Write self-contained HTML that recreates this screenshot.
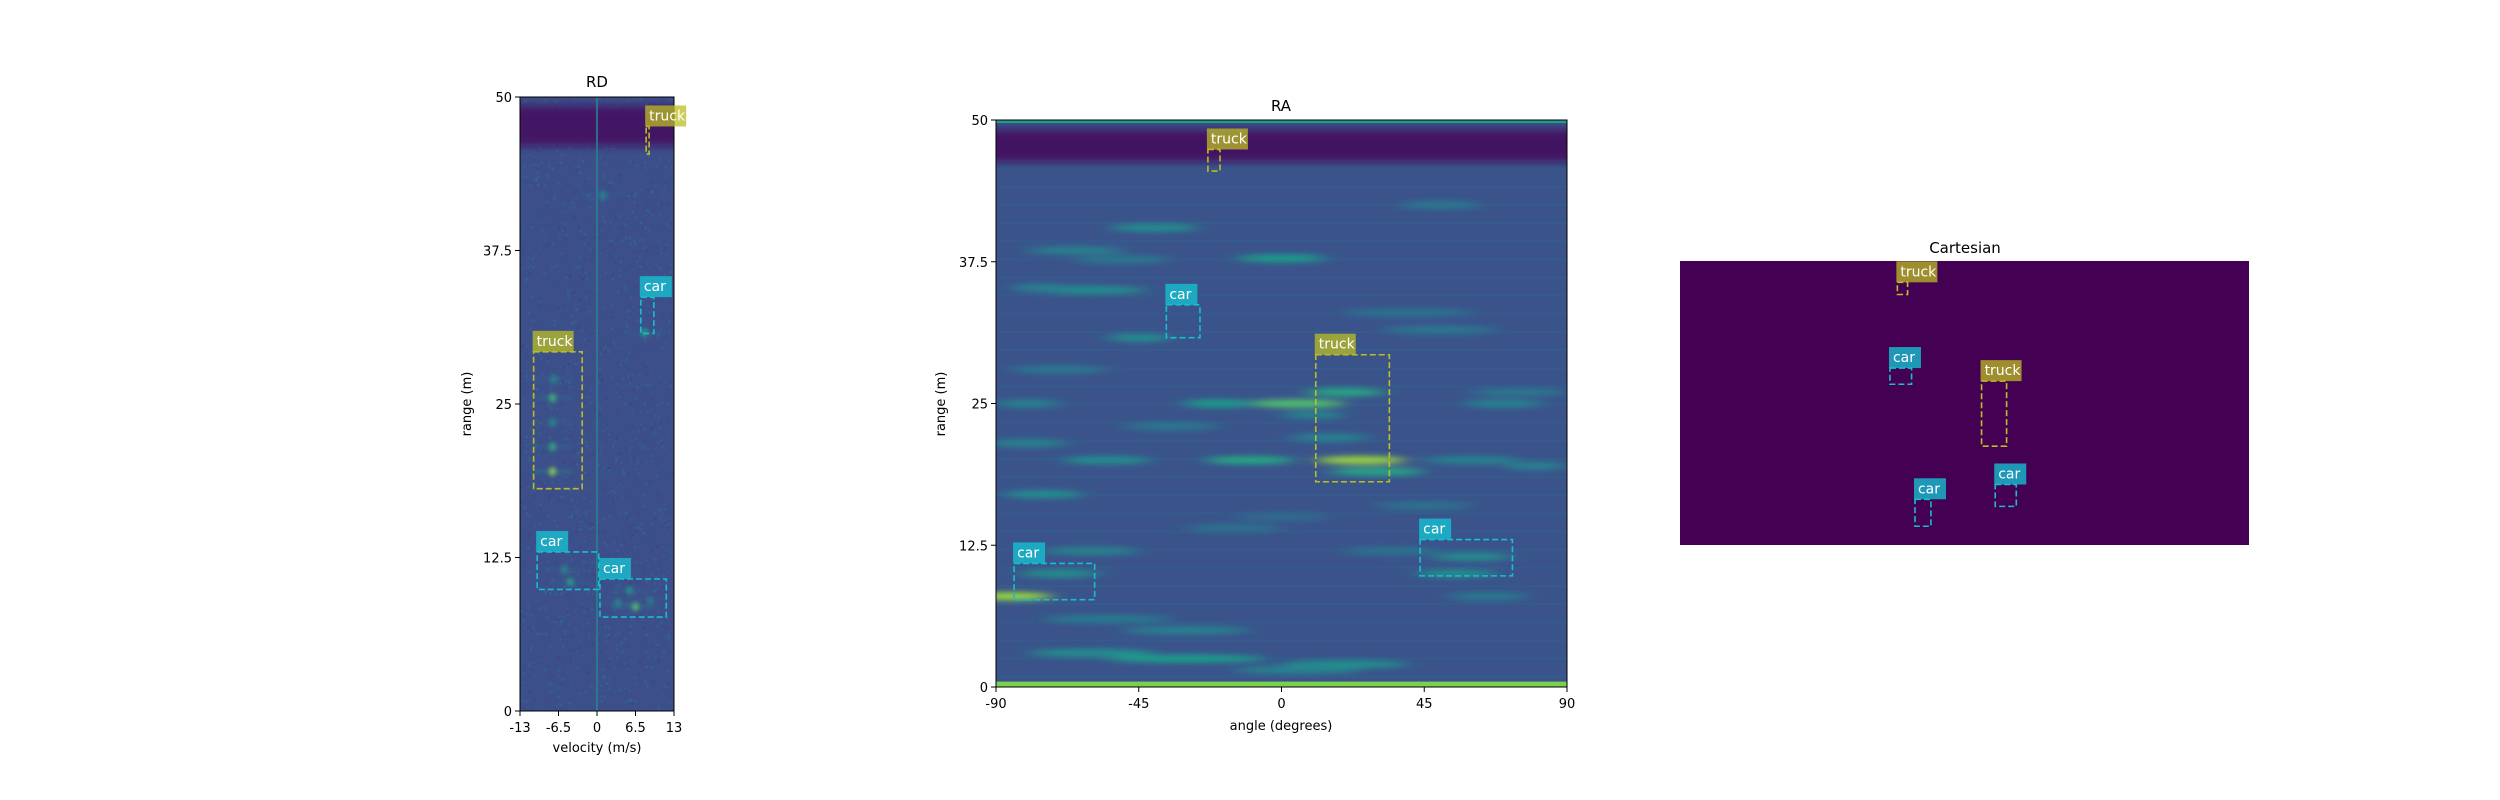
<!DOCTYPE html>
<html><head><meta charset="utf-8">
<style>
html,body{margin:0;padding:0;background:#fff;}
svg{display:block;font-family:"DejaVu Sans","Liberation Sans",sans-serif;}
</style></head>
<body>
<svg id="fig" width="2500" height="800" viewBox="0 0 2500 800" xmlns="http://www.w3.org/2000/svg">
<defs>
<filter id="blurRA" x="-50%" y="-50%" width="200%" height="200%"><feGaussianBlur stdDeviation="9 3"/></filter>
<filter id="blurBand" x="-50%" y="-50%" width="200%" height="200%"><feGaussianBlur stdDeviation="0 4"/></filter>
<filter id="blurRD" x="-50%" y="-50%" width="200%" height="200%"><feGaussianBlur stdDeviation="2 2"/></filter>
<clipPath id="clipRD"><rect x="520" y="97" width="154" height="614"/></clipPath>
<clipPath id="clipRA"><rect x="996" y="120" width="571" height="567"/></clipPath>
</defs>
</svg>
<script>
// ---- data ----
const rdClasses = ["truck","car","truck","car","car"];
const rdVel0 = [8.3, 7.4, -10.7, -10.1, 0.5];
const rdVel1 = [8.8, 9.6, -2.5, 0.3, 11.7];
const rdRng0 = [45.35, 30.75, 18.1, 9.9, 7.65];
const rdRng1 = [47.6, 33.7, 29.25, 12.95, 10.75];

const raClasses = ["truck","car","truck","car","car"];
const raAng0 = [-23.2, -36.3, 10.8, -84.3, 43.7];
const raAng1 = [-19.4, -25.7, 34.0, -58.9, 72.8];
const raRng0 = [45.5, 30.8, 18.1, 7.7, 9.8];
const raRng1 = [47.4, 33.7, 29.3, 10.9, 13.0];

const caClasses = ["truck","car","truck","car","car"];
const caX0 = [0.382, 0.369, 0.530, 0.413, 0.554];
const caX1 = [0.400, 0.407, 0.574, 0.441, 0.591];
const caY0 = [0.075, 0.377, 0.423, 0.839, 0.787];
const caY1 = [0.118, 0.434, 0.652, 0.934, 0.864];

const rdTicksX = [-13, -6.5, 0, 6.5, 13];
const rdTickLabelsX = ["-13", "-6.5", "0", "6.5", "13"];
const rTicks = [0, 12.5, 25, 37.5, 50];
const rTickLabels = ["0", "12.5", "25", "37.5", "50"];
const raTicksX = [-90, -45, 0, 45, 90];
const raTickLabelsX = ["-90", "-45", "0", "45", "90"];

// RA heatmap streaks: angle centre, range, angular width, intensity
const raStreakAng = [5, 25, -10, -55, -20, 20, -85, -70, -60, -45, 0, -40, -60, 50, -75, 60, 55, -30, 20, -60, 70, -80, 15, 30, -30, 0, -65, -50, 40, 75, -70, 50, 60, -35, 10, -80, 80, -15, 35, 65, -55, 5, -75, 45];
const raStreakRng = [25, 20, 20, 20, 25, 26, 8, 10, 12, 30.8, 37.8, 40.5, 35, 42.5, 17, 11.5, 10, 2.5, 2, 3, 25, 25, 22, 19, 5, 15, 38.5, 37.7, 33, 26, 28, 31.5, 20, 23, 24, 21.5, 19.5, 14, 12, 8, 6, 1.5, 35.2, 16];
const raStreakW   = [30, 28, 28, 28, 22, 25, 25, 25, 30, 20, 28, 28, 35, 25, 25, 25, 25, 50, 40, 40, 25, 20, 25, 30, 40, 30, 30, 30, 40, 30, 30, 35, 30, 30, 20, 25, 20, 30, 30, 25, 40, 40, 20, 30];
const raStreakI   = [0.72, 0.85, 0.6, 0.5, 0.55, 0.6, 0.85, 0.5, 0.45, 0.5, 0.55, 0.5, 0.5, 0.4, 0.5, 0.5, 0.5, 0.55, 0.5, 0.5, 0.45, 0.45, 0.45, 0.6, 0.45, 0.35, 0.45, 0.4, 0.38, 0.4, 0.4, 0.4, 0.45, 0.4, 0.45, 0.45, 0.45, 0.38, 0.38, 0.42, 0.42, 0.45, 0.45, 0.38];

// RD hotspots: velocity, range, intensity
const rdSpotV = [-7.5, -7.5, -7.5, -7.3, -4.5, -5.5, 6.5, 5.5, 8, 1, -7.5, 3.5, 9];
const rdSpotR = [19.5, 25.5, 21.5, 27, 10.5, 11.5, 8.5, 9.8, 30.8, 42, 23.5, 8.8, 9];
const rdSpotI = [0.85, 0.7, 0.65, 0.5, 0.6, 0.5, 0.75, 0.55, 0.6, 0.5, 0.5, 0.5, 0.45];

// ---- helpers ----
const NS = "http://www.w3.org/2000/svg";
const fig = document.getElementById("fig");
function mk(tag, attrs, parent){ const e=document.createElementNS(NS,tag); for(const k in attrs) e.setAttribute(k,attrs[k]); (parent||fig).appendChild(e); return e; }
function viridis(t){
  const s=[[68,1,84],[72,40,120],[62,74,137],[49,104,142],[38,130,142],[31,158,137],[53,183,121],[109,205,89],[180,222,44],[253,231,37]];
  t=Math.max(0,Math.min(1,t))*9; const i=Math.min(8,Math.floor(t)), f=t-i;
  const c=s[i].map((v,k)=>Math.round(v+(s[i+1][k]-v)*f)); return `rgb(${c[0]},${c[1]},${c[2]})`;
}
const TRUCK = "rgba(188,189,34,0.75)", CAR = "rgba(23,190,207,0.8)";
const BOXT = "#bcbd22", BOXC = "#17becf";

// ---- axes geometry ----
const RD = {x0:520,x1:674,y0:97,y1:711};
const RA = {x0:996,x1:1567,y0:120,y1:687};
const CA = {x0:1680,x1:2249,y0:261,y1:545};
const rdX = v => RD.x0 + (v+13)/26*(RD.x1-RD.x0);
const rdY = r => RD.y1 - r/50*(RD.y1-RD.y0);
const raX = a => RA.x0 + (a+90)/180*(RA.x1-RA.x0);
const raY = r => RA.y1 - r/50*(RA.y1-RA.y0);
const caX = f => CA.x0 + f*(CA.x1-CA.x0);
const caY = f => CA.y0 + f*(CA.y1-CA.y0);

function text(x,y,s,size,anchor,name,extra){
  const t=mk("text",Object.assign({x:x,y:y,"font-size":size,"text-anchor":anchor||"middle",fill:"#000"},extra||{}));
  t.textContent=s;
  
  
  return t;
}
function box(x0,y0,x1,y1,cls,name,g){
  const col = cls==="truck"?BOXT:BOXC;
  const r=mk("rect",{x:x0,y:y0,width:x1-x0,height:y1-y0,fill:"none",stroke:col,"stroke-width":1.6,"stroke-dasharray":"6 3"},g);
  
  
  const w = cls==="truck"?41:32;
  const lb=mk("rect",{x:x0-1,y:y0-21,width:w,height:21,fill:cls==="truck"?TRUCK:CAR},fig);
  
  
  const t=mk("text",{x:x0+3,y:y0-6,"font-size":14,fill:"#fff"},fig);
  t.textContent=cls;
  
  
}
function frame(A,name){
  const r=mk("rect",{x:A.x0,y:A.y0,width:A.x1-A.x0,height:A.y1-A.y0,fill:"none",stroke:"#000","stroke-width":1});
  
  
}

// ---- RD panel ----
const gRD = mk("g",{"clip-path":"url(#clipRD)"});


mk("rect",{x:RD.x0,y:RD.y0,width:154,height:614,fill:viridis(0.24)},gRD);
// speckle noise
(function(){
  let seed=7; const rnd=()=>{seed=(seed*16807)%2147483647;return seed/2147483647;};
  for(let i=0;i<2200;i++){
    const x=RD.x0+rnd()*154, y=RD.y0+rnd()*614;
    mk("rect",{x:x,y:y,width:2.5,height:2.5,fill:viridis(0.18+rnd()*0.2),opacity:0.55},gRD);
  }
})();
// dark band near top
mk("rect",{x:RD.x0,y:rdY(49.3),width:154,height:rdY(46)-rdY(49.3),fill:viridis(0.03),opacity:0.85,filter:"url(#blurBand)"},gRD);
// zero-doppler line
mk("rect",{x:rdX(0)-1,y:RD.y0,width:2,height:614,fill:viridis(0.45),opacity:0.8},gRD);
const gSp = mk("g",{filter:"url(#blurRD)"},gRD);
rdSpotV.forEach((v,i)=>{
  const e=mk("ellipse",{cx:rdX(v),cy:rdY(rdSpotR[i]),rx:3.5,ry:4,fill:viridis(rdSpotI[i])},gSp);
  
  
  mk("rect",{x:rdX(v)-20,y:rdY(rdSpotR[i])-1,width:40,height:2,fill:viridis(rdSpotI[i]*0.6),opacity:0.6},gSp);
});
frame(RD,"rd-axes-frame");
rdClasses.forEach((c,i)=>box(rdX(rdVel0[i]),rdY(rdRng1[i]),rdX(rdVel1[i]),rdY(rdRng0[i]),c,"rd-"+c+"-"+i,fig));
rdTicksX.forEach((v,i)=>{ mk("line",{x1:rdX(v),x2:rdX(v),y1:RD.y1,y2:RD.y1+5,stroke:"#000"}); text(rdX(v),RD.y1+21,rdTickLabelsX[i],13,"middle","rd-x-tick-label"); });
rTicks.forEach((r,i)=>{ mk("line",{x1:RD.x0-5,x2:RD.x0,y1:rdY(r),y2:rdY(r),stroke:"#000"}); text(RD.x0-8,rdY(r)+5,rTickLabels[i],13,"end","rd-y-tick-label"); });
text(597,87,"RD",15,"middle","rd-title");
text(597,752,"velocity (m/s)",13,"middle","rd-x-axis-title");
text(471,404,"range (m)",13,"middle","rd-y-axis-title",{transform:"rotate(-90 471 404)"});

// ---- RA panel ----
const gRA = mk("g",{"clip-path":"url(#clipRA)"});


mk("rect",{x:RA.x0,y:RA.y0,width:571,height:567,fill:viridis(0.26)},gRA);
// faint horizontal bands
for(let r=1;r<46;r+=1.6){ mk("rect",{x:RA.x0,y:raY(r),width:571,height:2,fill:viridis(0.33),opacity:0.35},gRA); }
mk("rect",{x:RA.x0,y:raY(49.2),width:571,height:raY(46.3)-raY(49.2),fill:viridis(0.03),opacity:0.9,filter:"url(#blurBand)"},gRA);
mk("rect",{x:RA.x0,y:raY(50),width:571,height:3,fill:viridis(0.55)},gRA);
mk("rect",{x:RA.x0,y:raY(0.3)-2,width:571,height:5,fill:viridis(0.8)},gRA);
const gSt = mk("g",{filter:"url(#blurRA)"},gRA);
raStreakAng.forEach((a,i)=>{
  const e=mk("ellipse",{cx:raX(a),cy:raY(raStreakRng[i]),rx:raStreakW[i]/180*571/2,ry:4,fill:viridis(raStreakI[i])},gSt);
  
  
});
frame(RA,"ra-axes-frame");
raClasses.forEach((c,i)=>box(raX(raAng0[i]),raY(raRng1[i]),raX(raAng1[i]),raY(raRng0[i]),c,"ra-"+c+"-"+i,fig));
raTicksX.forEach((a,i)=>{ mk("line",{x1:raX(a),x2:raX(a),y1:RA.y1,y2:RA.y1+5,stroke:"#000"}); text(raX(a),RA.y1+21,raTickLabelsX[i],13,"middle","ra-x-tick-label"); });
rTicks.forEach((r,i)=>{ mk("line",{x1:RA.x0-5,x2:RA.x0,y1:raY(r),y2:raY(r),stroke:"#000"}); text(RA.x0-8,raY(r)+5,rTickLabels[i],13,"end","ra-y-tick-label"); });
text(1281,111,"RA",15,"middle","ra-title");
text(1281,730,"angle (degrees)",13,"middle","ra-x-axis-title");
text(945,404,"range (m)",13,"middle","ra-y-axis-title",{transform:"rotate(-90 945 404)"});

// ---- Cartesian panel ----
const bg=mk("rect",{x:CA.x0,y:CA.y0,width:CA.x1-CA.x0,height:CA.y1-CA.y0,fill:"#440154"});


caClasses.forEach((c,i)=>box(caX(caX0[i]),caY(caY0[i]),caX(caX1[i]),caY(caY1[i]),c,"cartesian-"+c+"-"+i,fig));
text(1965,253,"Cartesian",15,"middle","cartesian-title");
</script>
</body></html>
